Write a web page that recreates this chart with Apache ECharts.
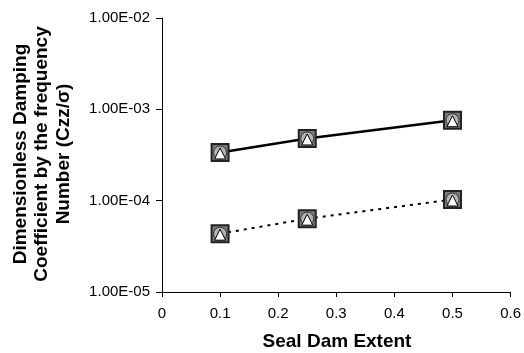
<!DOCTYPE html>
<html>
<head>
<meta charset="utf-8">
<script src="https://cdn.jsdelivr.net/npm/echarts@6/dist/echarts.min.js"></script>
<style>
  html, body { margin: 0; padding: 0; background: #fff; }
  #chart { width: 524px; height: 353px; }
</style>
</head>
<body>
<div id="chart"></div>
<script>
// Seal dam extent on the x axis
const sealDamExtent = [0.1, 0.25, 0.5];
// Damping coefficient, upper group (solid line)
const dampingUpper = [3.37e-4, 4.8e-4, 7.6e-4];
// Damping coefficient, lower group (dotted line)
const dampingLower = [4.35e-5, 6.35e-5, 1.03e-4];
const xTicks = [0, 0.1, 0.2, 0.3, 0.4, 0.5, 0.6];
const yTicks = [1e-5, 1e-4, 1e-3, 1e-2];

const FONT = '"Liberation Sans", Arial, sans-serif';

function sciLabel(v) {
  const exp = Math.round(Math.log10(v));
  const mant = v / Math.pow(10, exp);
  const sign = exp < 0 ? '-' : '+';
  const e = String(Math.abs(exp)).padStart(2, '0');
  return mant.toFixed(2) + 'E' + sign + e;
}

function pairs(ys) { return sealDamExtent.map((x, i) => [x, ys[i]]); }

function markerSeries(ys, lineType, lineWidth) {
  return [
    {
      type: 'line', data: pairs(ys), symbol: 'rect', symbolSize: 17,
      lineStyle: { color: '#000', width: lineWidth, type: lineType },
      itemStyle: { color: '#7a7a7a', borderColor: '#222', borderWidth: 2 },
      z: 2
    },
    {
      type: 'line', data: pairs(ys), symbol: 'circle', symbolSize: 13,
      lineStyle: { width: 0, opacity: 0 },
      itemStyle: { color: '#b4b4b4', borderColor: '#333', borderWidth: 1 },
      z: 3
    },
    {
      type: 'line', data: pairs(ys), symbol: 'triangle', symbolSize: 11,
      symbolOffset: [0, 1],
      lineStyle: { width: 0, opacity: 0 },
      itemStyle: { color: '#fff', borderColor: '#000', borderWidth: 1 },
      z: 4
    }
  ];
}

const chart = echarts.init(document.getElementById('chart'), null, { renderer: 'canvas' });
chart.setOption({
  animation: false,
  backgroundColor: '#fff',
  grid: { left: 162, right: 12, top: 18, bottom: 61 },
  xAxis: {
    type: 'value', min: 0, max: 0.6, interval: 0.1,
    axisLine: { lineStyle: { color: '#000', width: 1 } },
    axisTick: { show: true, inside: false, length: 5, lineStyle: { color: '#000' } },
    axisLabel: {
      color: '#000', fontFamily: FONT, fontSize: 15, margin: 14,
      formatter: v => String(parseFloat(v.toFixed(1)))
    },
    splitLine: { show: false }
  },
  yAxis: {
    type: 'log', logBase: 10, min: 1e-5, max: 1e-2,
    axisLine: { show: true, lineStyle: { color: '#000', width: 1 } },
    axisTick: { show: true, inside: false, length: 6, lineStyle: { color: '#000' } },
    minorTick: { show: false },
    axisLabel: {
      color: '#000', fontFamily: FONT, fontSize: 15, margin: 12,
      formatter: v => sciLabel(v)
    },
    splitLine: { show: false }
  },
  graphic: [
    {
      type: 'text',
      x: 42, y: 154,
      rotation: Math.PI / 2,
      style: {
        text: 'Dimensionless Damping\nCoefficient by the frequency\nNumber (Czz/σ)',
        align: 'center', verticalAlign: 'middle',
        font: 'bold 19px ' + FONT, fill: '#000',
        lineHeight: 21.5
      }
    },
    {
      type: 'text',
      x: 337, y: 342,
      style: {
        text: 'Seal Dam Extent',
        align: 'center', verticalAlign: 'middle',
        font: 'bold 19px ' + FONT, fill: '#000'
      }
    }
  ],
  series: [
    ...markerSeries(dampingUpper, 'solid', 2.5),
    ...markerSeries(dampingLower, [3, 5], 2)
  ]
});
</script>
</body>
</html>
